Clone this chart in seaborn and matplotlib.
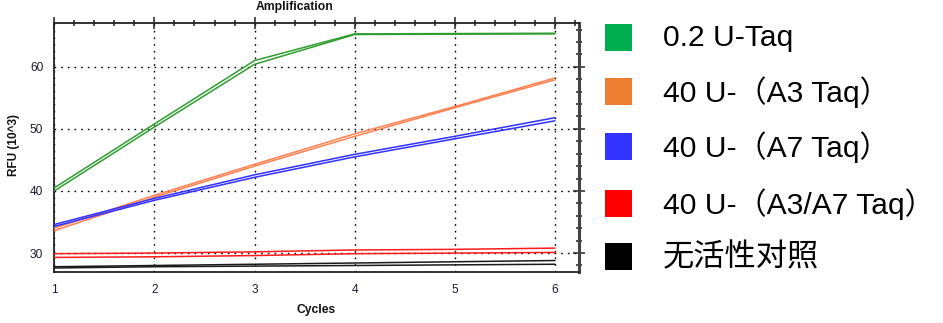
import matplotlib
matplotlib.use("Agg")
import matplotlib.pyplot as plt
from matplotlib.patches import Rectangle
from matplotlib.ticker import MultipleLocator
import numpy as np
import pandas as pd
import seaborn as sns

# ---- data: RFU (x10^3) per cycle, two replicate wells per sample ----
cycles = [1, 2, 3, 4, 5, 6]

taq_02_a = [40.5, 50.8, 61.0, 65.3, 65.35, 65.4]
taq_02_b = [40.0, 50.3, 60.4, 65.2, 65.25, 65.3]

a3_a = [34.0, 39.3, 44.3, 49.2, 53.6, 58.2]
a3_b = [33.6, 39.0, 44.0, 48.8, 53.4, 57.9]

a7_a = [34.6, 38.8, 42.6, 45.9, 48.8, 51.8]
a7_b = [34.3, 38.5, 42.2, 45.5, 48.4, 51.3]

a3a7_a = [29.9, 30.0, 30.2, 30.5, 30.6, 30.8]
a3a7_b = [29.3, 29.4, 29.6, 29.9, 30.0, 30.1]

ctrl_a = [27.8, 28.0, 28.2, 28.4, 28.6, 28.8]
ctrl_b = [27.6, 27.8, 27.9, 28.0, 28.1, 28.2]

samples = ["0.2 U-Taq", "40 U-（A3 Taq）", "40 U-（A7 Taq）",
           "40 U-（A3/A7 Taq）", "无活性对照"]
replicates = [(taq_02_a, taq_02_b), (a3_a, a3_b), (a7_a, a7_b),
              (a3a7_a, a3a7_b), (ctrl_a, ctrl_b)]

line_colors = ["#2f9e2f", "#ff8050", "#3030ff", "#ff1a1a", "#1a1a1a"]
legend_colors = ["#00b050", "#ed7d31", "#3333ff", "#ff0000", "#000000"]

rows = []
for name, reps in zip(samples, replicates):
    for r, vals in enumerate(reps):
        for c, v in zip(cycles, vals):
            rows.append({"sample": name, "rep": r, "cycle": c, "rfu": v})
df = pd.DataFrame(rows)

# ---- figure ----
sns.set_theme(style="white")
plt.rcParams["font.family"] = ["Liberation Sans", "Noto Sans CJK SC", "DejaVu Sans"]

fig = plt.figure(figsize=(9.43, 3.23), dpi=100)
ax = fig.add_axes([54.3 / 943, 1 - 271.7 / 323, (579 - 54.3) / 943, (271.7 - 22.7) / 323])

sns.lineplot(data=df, x="cycle", y="rfu", hue="sample", units="rep",
             estimator=None, hue_order=samples,
             palette=dict(zip(samples, line_colors)),
             linewidth=1.1, legend=False, ax=ax, zorder=3)

ax.set_xlim(1, 6.24)
ax.set_ylim(27.0, 67.1)
ax.xaxis.set_major_locator(MultipleLocator(1))
ax.xaxis.set_minor_locator(MultipleLocator(0.2))
ax.yaxis.set_major_locator(MultipleLocator(10))
ax.yaxis.set_minor_locator(MultipleLocator(2))

ax.grid(True, which="major", color="black", linestyle=(0, (1.2, 3.6)), linewidth=1.0)
ax.set_axisbelow(True)

for side in ["left", "bottom", "top"]:
    ax.spines[side].set_color("#222222")
    ax.spines[side].set_linewidth(1.3)
ax.spines["right"].set_color("#444444")
ax.spines["right"].set_linewidth(2.2)

ax.tick_params(which="both", direction="inout", top=True, right=True,
               color="#222222", width=1.1, labelsize=8.6, labelcolor="#1c1c30")
ax.tick_params(which="major", length=8)
ax.tick_params(which="minor", length=5)
ax.tick_params(axis="y", which="major", pad=4)
ax.tick_params(axis="x", which="major", pad=5)

ax.set_xlabel("")
ax.set_ylabel("")

fig.text(295 / 943, 1 - 7 / 323, "Amplification", ha="center", va="center",
         fontsize=8.7, fontweight="bold", color="#111111")
fig.text(316 / 943, 1 - 310 / 323, "Cycles", ha="center", va="center",
         fontsize=8.7, fontweight="bold", color="#111111")
fig.text(14 / 943, 1 - 145 / 323, "RFU (10^3)", ha="center", va="center",
         rotation=90, fontsize=8.5, fontweight="bold", color="#111111")

# ---- legend: colour squares with sample names ----
square_tops = [24.0, 78.3, 133.3, 190.0, 243.3]
baselines = [46.0, 101.7, 156.7, 214.0, 266.0]
for name, col, top, base in zip(samples, legend_colors, square_tops, baselines):
    fig.patches.append(Rectangle((605 / 943, 1 - (top + 27) / 323), 27 / 943, 27 / 323,
                                 transform=fig.transFigure, facecolor=col,
                                 edgecolor="none"))
    size = 22.5 if name == "无活性对照" else 21.6
    fig.text(663 / 943, 1 - base / 323, name, ha="left", va="baseline",
             fontsize=size, color="black")

fig.savefig("out.png", dpi=100)
